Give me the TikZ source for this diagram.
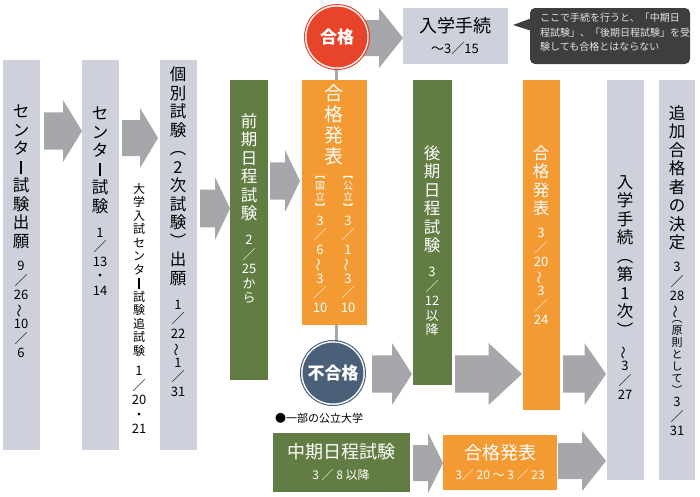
\documentclass[tikz,border=0pt]{standalone}
\usepackage{fontspec}
\setmainfont{Noto Sans CJK JP}
\definecolor{colg}{HTML}{CED1DB}
\definecolor{arrc}{HTML}{A6A7AB}
\definecolor{grn}{HTML}{627D43}
\definecolor{org}{HTML}{F39A33}
\definecolor{redc}{HTML}{E8442A}
\definecolor{navy}{HTML}{4A5F78}
\definecolor{dark}{HTML}{3E3E3E}
\newcommand\vsl{／}
\newcommand\vti{\rotatebox[origin=c]{90}{～}}
\newcommand\vbar{\rule[-1pt]{1.6pt}{13pt}}
\newcommand\garrow[4]{%
 \pgfmathsetmacro\xh{#1+0.5*(#3-#1)}\pgfmathsetmacro\ia{#2+0.2*(#4-#2)}%
 \pgfmathsetmacro\ib{#4-0.2*(#4-#2)}\pgfmathsetmacro\ym{(#2+#4)/2}%
 \fill[arrc] (#1,\ia) -- (\xh,\ia) -- (\xh,#2) -- (#3,\ym) -- (\xh,#4) -- (\xh,\ib) -- (#1,\ib) -- cycle;}
\tikzset{
 box/.style={anchor=north west,inner sep=0,outer sep=0},
 hd/.style={anchor=north,inner sep=0,align=center,font=\fontsize{16.5}{18.5}\selectfont},
 dt/.style={anchor=north,inner sep=0,align=center,font=\fontsize{13}{14.5}\selectfont},
 sm/.style={anchor=north,inner sep=0,align=center,font=\fontsize{12}{13.5}\selectfont},
 br/.style={anchor=north,inner sep=0,align=center,font=\fontsize{10}{11}\selectfont},
}
\begin{document}
\begin{tikzpicture}[x=1pt,y=-1pt]
\useasboundingbox (0,0) rectangle (700,496);
% columns
\node[box,fill=colg,minimum width=37,minimum height=390] (c1) at (3,60) {};
\node[box,fill=colg,minimum width=37,minimum height=390] (c2) at (82,60) {};
\node[box,fill=colg,minimum width=37,minimum height=390] (c3) at (160,60) {};
\node[box,fill=grn,minimum width=38,minimum height=300] (g1) at (230,80) {};
\draw[arrc,line width=3] (336,37) -- (336,373);
\node[box,fill=org,minimum width=65,minimum height=245] (o1) at (302,80) {};
\node[box,fill=grn,minimum width=39,minimum height=305] (g2) at (413,80) {};
\node[box,fill=org,minimum width=37,minimum height=330] (o2) at (523,80) {};
\node[box,fill=colg,minimum width=37,minimum height=400] (c4) at (607,80) {};
\node[box,fill=colg,minimum width=36,minimum height=400] (c5) at (659,80) {};
\node[box,fill=colg,minimum width=105,minimum height=56] (nb) at (403,8) {};
\node[box,fill=grn,minimum width=137,minimum height=59] (g3) at (273,433) {};
\node[box,fill=org,minimum width=114,minimum height=55] (o3) at (443,435) {};
% arrows
\garrow{44}{100}{82}{162}
\garrow{122}{108}{158}{168}
\garrow{200}{177}{230}{240}
\garrow{270}{150}{300}{212}
\garrow{355}{8}{403}{68}
\garrow{372}{343}{412}{405}
\garrow{455}{343}{522}{405}
\garrow{563}{343}{606}{405}
\garrow{413}{433}{443}{493}
\garrow{558}{431}{606}{491}
% circles
\node[circle,fill=redc,draw=white,line width=1,minimum size=62,inner sep=0,text=white,font=\fontsize{17}{17}\selectfont\bfseries] (pass) at (337,37) {合格};
\draw[redc,line width=1] (pass) circle (32.5);
\node[circle,fill=navy,draw=white,line width=1,minimum size=62,inner sep=0,text=white,font=\fontsize{17}{17}\selectfont\bfseries] (fail) at (333,373) {不合格};
\draw[navy,line width=1] (fail) circle (32.5);
% callout
\fill[dark,rounded corners=5] (530,8) rectangle (690,64);
\fill[dark] (532,18) -- (513,25) -- (532,31) -- cycle;
\node[anchor=north west,inner sep=0,align=left,text=white!90!black,font=\fontsize{10}{14.5}\selectfont] (note) at (540,13) {ここで手続を行うと、「中期日\\程試験」、「後期日程試験」を受\\験しても合格とはならない};
% texts
\node[font=\fontsize{18}{18}\selectfont] (nbt) at (455,26) {入学手続};
\node[font=\fontsize{13}{13}\selectfont] (nbd) at (455,49) {～3／15};
\node[hd] (t1) at (21,105) {セ\\ン\\タ\\\vbar\\試\\験\\出\\願};
\node[dt] (d1) at ([yshift=-12]t1.south) {9\\\vsl\\26\\\vti\\10\\\vsl\\6};
\node[hd] (t2) at (100,107) {セ\\ン\\タ\\\vbar\\試\\験};
\node[dt] (d2) at ([yshift=-14]t2.south) {1\\\vsl\\13\\・\\14};
\node[sm] (t2b) at (139,183) {大\\学\\入\\試\\セ\\ン\\タ\\\rule[-1pt]{1.3pt}{11pt}\\試\\験\\追\\試\\験};
\node[dt] (d2b) at ([yshift=-10]t2b.south) {1\\\vsl\\20\\・\\21};
\node[hd] (t3) at (178,67) {個\\別\\試\\験\\︵\\2\\次\\試\\験\\︶\\出\\願};
\node[dt] (d3) at ([yshift=-14]t3.south) {1\\\vsl\\22\\\vti\\1\\\vsl\\31};
\node[hd,text=white] (tg1) at (249,113) {前\\期\\日\\程\\試\\験};
\node[dt,text=white] (dg1) at ([yshift=-14]tg1.south) {2\\\vsl\\25\\か\\ら};
\node[hd,text=white,font=\fontsize{19}{21}\selectfont] (to1) at (334,84) {合\\格\\発\\表};
\node[br,text=white] (bo1a) at (320,176) {︻\\国\\立\\︼};
\node[dt,text=white] (do1a) at ([yshift=-4]bo1a.south) {3\\\vsl\\6\\\vti\\3\\\vsl\\10};
\node[br,text=white] (bo1b) at (348,176) {︻\\公\\立\\︼};
\node[dt,text=white] (do1b) at ([yshift=-4]bo1b.south) {3\\\vsl\\1\\\vti\\3\\\vsl\\10};
\node[hd,text=white] (tg2) at (432,145) {後\\期\\日\\程\\試\\験};
\node[dt,text=white] (dg2) at ([yshift=-14]tg2.south) {3\\\vsl\\12\\以\\降};
\node[hd,text=white] (to2) at (541,145) {合\\格\\発\\表};
\node[dt,text=white] (do2) at ([yshift=-12]to2.south) {3\\\vsl\\20\\\vti\\3\\\vsl\\24};
\node[hd] (t4) at (625,175) {入\\学\\手\\続\\︵\\第\\1\\次\\︶};
\node[dt] (d4) at ([yshift=-10]t4.south) {\vti\\3\\\vsl\\27};
\node[hd] (t5) at (677,105) {追\\加\\合\\格\\者\\の\\決\\定};
\node[dt] (d5) at ([yshift=-12]t5.south) {3\\\vsl\\28\\\vti};
\node[br,font=\fontsize{11}{12}\selectfont] (d5b) at ([yshift=-2]d5.south) {︵\\原\\則\\と\\し\\て\\︶};
\node[dt] (d5c) at ([yshift=-2]d5b.south) {3\\\vsl\\31};
\node[anchor=west,inner sep=0,font=\fontsize{11}{11}\selectfont] (pub) at (275,418) {●一部の公立大学};
\node[text=white,font=\fontsize{18}{18}\selectfont] (tg3) at (341,452) {中期日程試験};
\node[text=white,font=\fontsize{12}{12}\selectfont] (dg3) at (341,475) {3 ／ 8 以降};
\node[text=white,font=\fontsize{18}{18}\selectfont] (to3) at (500,453) {合格発表};
\node[text=white,font=\fontsize{12}{12}\selectfont] (do3) at (500,475) {3／ 20 ～ 3 ／ 23};
\end{tikzpicture}
\end{document}
